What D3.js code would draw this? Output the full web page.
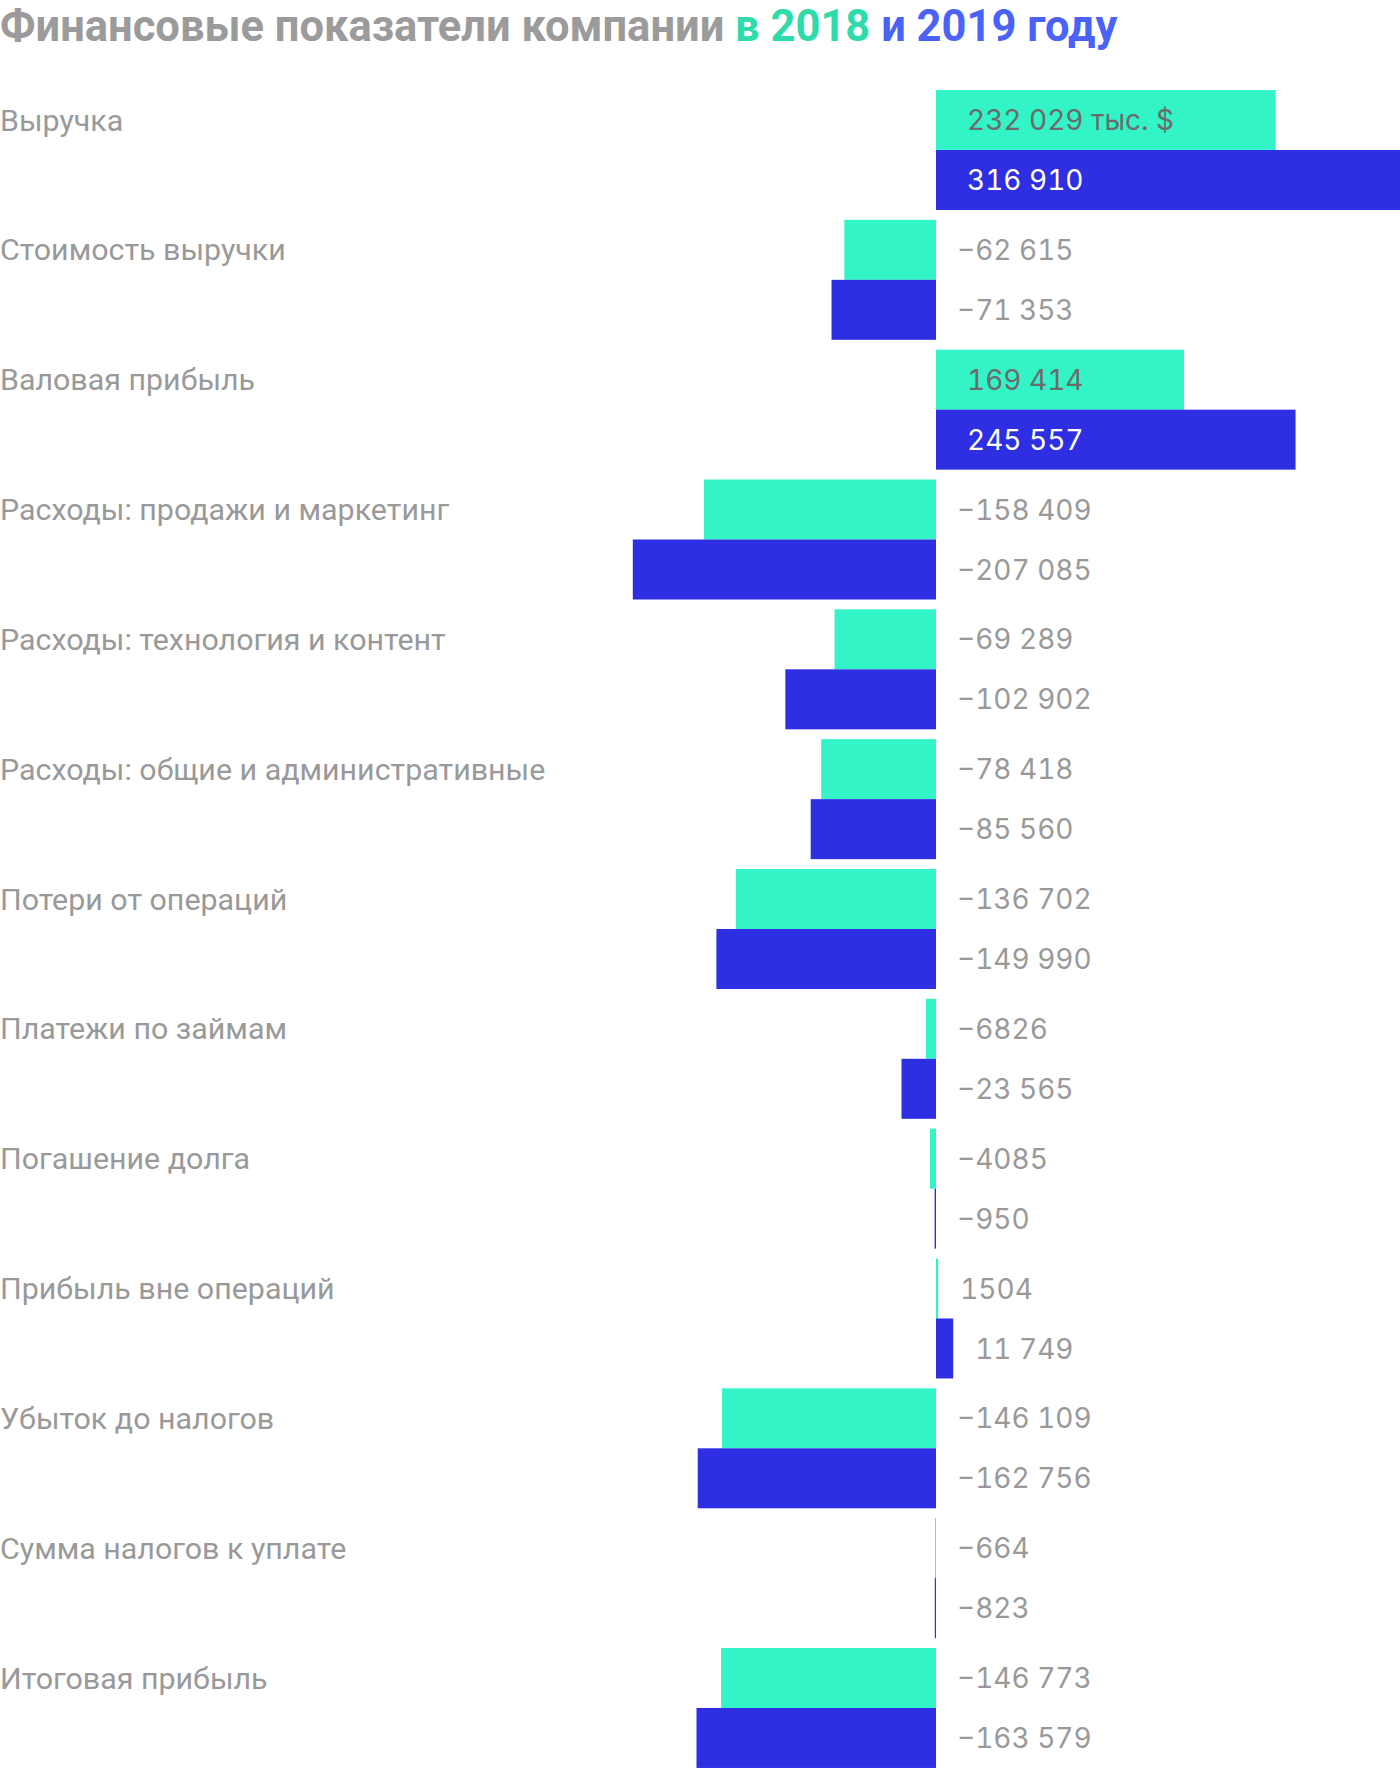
<!DOCTYPE html>
<html>
<meta charset="utf-8">
<script src="https://d3js.org/d3.v7.min.js"></script>
<style>
  body { margin: 0; background: #fff; }
  svg text { font-family: Roboto, "Noto Sans", sans-serif; }
  svg text.val { font-family: Inter, Roboto, sans-serif; font-variant-numeric: tabular-nums; }
</style>
<body>
<div id="chart"></div>
<script>
  // categories and values (thousand $)
  var categories = ["Выручка", "Стоимость выручки", "Валовая прибыль",
    "Расходы: продажи и маркетинг", "Расходы: технология и контент",
    "Расходы: общие и административные", "Потери от операций",
    "Платежи по займам", "Погашение долга", "Прибыль вне операций",
    "Убыток до налогов", "Сумма налогов к уплате", "Итоговая прибыль"];
  var values2018 = [232029, -62615, 169414, -158409, -69289, -78418, -136702,
    -6826, -4085, 1504, -146109, -664, -146773];
  var values2019 = [316910, -71353, 245557, -207085, -102902, -85560, -149990,
    -23565, -950, 11749, -162756, -823, -163579];
  var years = ["2018", "2019"];
  var colors = {"2018": "#33f4c6", "2019": "#2e2ee2"};

  var width = 1400, height = 1768;
  var top0 = 90, barH = 60, step = 129.83;

  var svg = d3.select("#chart").append("svg")
    .attr("width", width)
    .attr("height", height);

  // title
  var title = svg.append("text")
    .attr("x", 0)
    .attr("y", 41)
    .style("font-size", "43.5px")
    .style("font-weight", "bold");
  title.append("tspan").attr("fill", "#9b9b9b").text("Финансовые показатели компании ");
  title.append("tspan").attr("fill", "#2ddbab").text("в 2018 ");
  title.append("tspan").attr("fill", "#4a62f5").text("и 2019 году");

  var x = d3.scaleLinear()
    .domain([0, d3.max(values2019)])
    .range([936, 1400]);

  var fmt = function(v) {
    var a = Math.abs(v);
    var s = a >= 10000 ? d3.format(",")(a).replace(/,/g, " ") : String(a);
    return (v < 0 ? "\u2212" : "") + s;
  };

  var rows = [];
  categories.forEach(function(c, i) {
    rows.push({cat: c, i: i, year: "2018", v: values2018[i], k: 0});
    rows.push({cat: c, i: i, year: "2019", v: values2019[i], k: 1});
  });

  var yTop = function(d) { return top0 + d.i * step + d.k * barH; };

  // category labels
  svg.append("g").selectAll("text")
    .data(categories)
    .enter().append("text")
      .attr("x", 0)
      .attr("y", function(d, i) { return top0 + i * step + barH / 2; })
      .attr("dy", "0.35em")
      .attr("fill", "#999")
      .style("font-size", "30.4px")
      .text(function(d) { return d; });

  // bars
  svg.append("g").selectAll("rect")
    .data(rows)
    .enter().append("rect")
      .attr("x", function(d) { return Math.min(x(0), x(d.v)); })
      .attr("y", yTop)
      .attr("width", function(d) { return Math.abs(x(d.v) - x(0)); })
      .attr("height", barH)
      .attr("fill", function(d) { return colors[d.year]; });

  // value labels
  svg.append("g").selectAll("text")
    .data(rows)
    .enter().append("text")
      .attr("class", "val")
      .attr("x", function(d) {
        var w = x(d.v) - x(0);
        if (d.v < 0) return x(0) + 21;
        if (w > 200) return x(0) + 31;
        return x(d.v) + 22;
      })
      .attr("y", function(d) { return yTop(d) + barH / 2; })
      .attr("dy", "0.36em")
      .attr("fill", function(d) {
        if (d.v > 0 && x(d.v) - x(0) > 200) return d.year == "2018" ? "#6b6b6b" : "#fff";
        return "#999";
      })
      .style("font-size", "28px")
      .text(function(d) { return fmt(d.v) + (d.i == 0 && d.k == 0 ? " тыс. $" : ""); });
</script>
</body>
</html>
